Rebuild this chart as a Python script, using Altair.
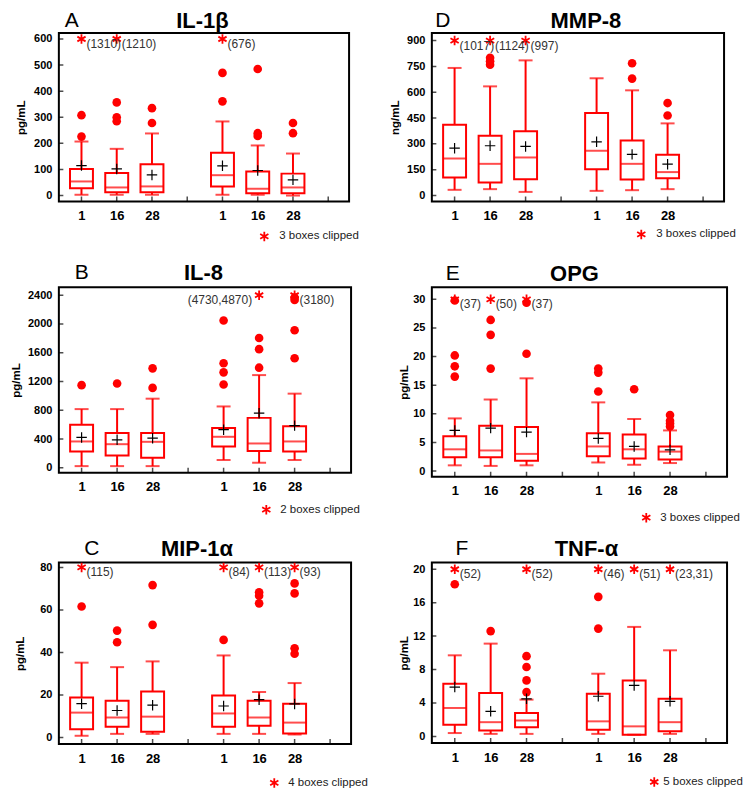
import altair as alt
import pandas as pd

RED = "#ff0000"
FONT = "Liberation Sans"
STAR = "M0,-1L0,1M-0.87,-0.5L0.87,0.5M-0.87,0.5L0.87,-0.5"

pos = [1, 2, 3, 5, 6, 7]
xtick_pos = [1, 2, 3, 4, 5, 6, 7, 8]
day_labels = ["1", "16", "28", "1", "16", "28"]

# ---- A: IL-1beta (pg/mL)
A_q1 = [28, 13, 13, 35, 9, 9]
A_med = [54, 31, 35, 78, 26, 31]
A_q3 = [102, 86, 120, 164, 92, 84]
A_wlo = [3, 3, 3, 3, 3, 0]
A_whi = [207, 179, 238, 284, 192, 161]
A_mean = [115, 102, 79, 114, 96, 60]
A_out = [[308, 226], [357, 300, 285], [335, 278], [470, 361], [485, 239, 228], [278, 239]]
A_star_pos = [1, 2, 5]
A_star_lab = ["(1310)", "(1210)", "(676)"]
A_yticks = [0, 100, 200, 300, 400, 500, 600]

# ---- D: MMP-8 (ng/mL)
D_q1 = [105, 76, 95, 153, 93, 101]
D_med = [215, 184, 221, 260, 184, 136]
D_q3 = [411, 347, 374, 479, 320, 237]
D_wlo = [33, 37, 21, 27, 31, 37]
D_whi = [741, 634, 785, 681, 611, 419]
D_mean = [275, 289, 285, 312, 239, 182]
D_out = [[], [800, 780, 760], [], [], [768, 679], [537, 465]]
D_star_pos = [1, 2, 3]
D_star_lab = ["(1017)", "(1124)", "(997)"]
D_yticks = [0, 150, 300, 450, 600, 750, 900]

# ---- B: IL-8 (pg/mL)
B_q1 = [225, 169, 141, 295, 234, 225]
B_med = [366, 328, 361, 431, 338, 366]
B_q3 = [600, 483, 483, 553, 694, 577]
B_wlo = [23, 23, 23, 108, 70, 108]
B_whi = [816, 816, 961, 853, 1289, 1031]
B_mean = [422, 389, 412, 530, 759, 586]
B_out = [[1149], [1172], [1383, 1111], [2049, 1453, 1327, 1158], [1805, 1650, 1392], [2367, 2335, 1913, 1524]]
B_star_pos = [6, 7]
B_star_lab = ["(4730,4870)", "(3180)"]
B_yticks = [0, 400, 800, 1200, 1600, 2000, 2400]

# ---- E: OPG (pg/mL)
E_q1 = [2.4, 2.4, 1.8, 2.6, 2.2, 2.0]
E_med = [3.8, 3.6, 3.0, 4.3, 3.8, 3.4]
E_q3 = [6.1, 7.9, 7.7, 6.6, 6.4, 4.3]
E_wlo = [1.0, 0.9, 1.0, 1.5, 1.1, 1.4]
E_whi = [9.2, 12.5, 16.2, 12.0, 9.1, 7.1]
E_mean = [7.1, 7.5, 6.8, 5.7, 4.3, 3.7]
E_out = [[29.8, 20.2, 18.3, 16.5], [26.4, 23.8, 17.9], [29.4, 20.5], [17.9, 17.2, 13.9], [14.3], [9.8, 8.8, 8.3, 7.8]]
E_star_pos = [1, 2, 3]
E_star_lab = ["(37)", "(50)", "(37)"]
E_yticks = [0, 5, 10, 15, 20, 25, 30]

# ---- C: MIP-1alpha (pg/mL)
C_q1 = [3.9, 5.0, 2.7, 5.0, 5.5, 1.9]
C_med = [11.7, 9.4, 9.8, 11.3, 9.4, 7.0]
C_q3 = [18.8, 17.3, 21.6, 19.8, 17.3, 15.9]
C_wlo = [0.8, 1.7, 1.7, 1.7, 1.7, 1.4]
C_whi = [35.2, 33.1, 35.8, 38.6, 21.4, 25.6]
C_mean = [15.9, 12.7, 15.2, 14.8, 17.8, 15.8]
C_out = [[61.6], [50.3, 44.8], [71.7, 53.0], [45.9], [68.3, 66.7, 63.1], [72.5, 67.8, 42.0, 39.4]]
C_star_pos = [1, 5, 6, 7]
C_star_lab = ["(115)", "(84)", "(113)", "(93)"]
C_yticks = [0, 20, 40, 60, 80]

# ---- F: TNF-alpha (pg/mL)
F_q1 = [1.4, 0.7, 1.1, 0.8, 0.2, 0.6]
F_med = [3.4, 1.7, 1.9, 1.8, 1.2, 1.7]
F_q3 = [6.3, 5.2, 2.8, 5.1, 6.7, 4.5]
F_wlo = [0.4, 0.3, 0.3, 0.3, 0.2, 0.3]
F_whi = [9.7, 11.1, 4.4, 7.5, 13.1, 10.3]
F_mean = [5.9, 3.0, 4.5, 4.8, 6.1, 4.2]
F_out = [[18.2], [12.6], [9.6, 8.3, 6.7, 5.3], [16.7, 12.9], [], []]
F_star_pos = [1, 3, 5, 6, 7]
F_star_lab = ["(52)", "(52)", "(46)", "(51)", "(23,31)"]
F_yticks = [0, 4, 8, 12, 16, 20]


def label_expr():
    parts = []
    for p, l in zip(pos, day_labels):
        parts.append(f"datum.value == {p} ? '{l}'")
    return " : ".join(parts) + " : ''"


def panel(letter, title, ytitle, q1, med, q3, wlo, whi, mean, outl,
          star_pos, star_lab, star_val, left_star, yticks, ydom, w, h,
          note, letter_xy, title_dx, note_xy, note_gap, title_pad):
    stats = pd.DataFrame({"pos": pos, "q1": q1, "med": med, "q3": q3,
                          "wlo": wlo, "whi": whi, "mean": mean})
    rows = [(p, v) for p, vals in zip(pos, outl) for v in vals]
    out_df = pd.DataFrame(rows, columns=["pos", "val"])
    st_df = pd.DataFrame({"pos": star_pos, "label": star_lab,
                          "val": [star_val] * len(star_pos),
                          "left": [p in left_star for p in star_pos]})
    yt_df = pd.DataFrame({"yt": yticks})
    xt_df = pd.DataFrame({"xt": xtick_pos})

    xs = alt.Scale(domain=[0.5, 8.45], nice=False, zero=False)
    ys = alt.Scale(domain=ydom, nice=False, zero=False)
    xax = alt.Axis(values=pos, labelExpr=label_expr(), ticks=False, domain=False,
                   grid=False, labelFontSize=13, labelFontWeight="bold",
                   labelPadding=8, labelColor="black", title=None)
    yax = alt.Axis(values=yticks, format="d", ticks=False, domain=False, grid=False,
                   labelFontSize=11, labelFontWeight="bold", labelPadding=7,
                   labelColor="black", title=ytitle, titleFontSize=11.5,
                   titleFontWeight="bold", titleColor="black", titlePadding=title_pad)

    def X(f):
        return alt.X(f, scale=xs, axis=xax, title=None)

    def Y(f):
        return alt.Y(f, scale=ys, axis=yax, title=ytitle)

    base = alt.Chart(stats)
    box = base.mark_bar(size=23, fillOpacity=0, stroke=RED, strokeWidth=2).encode(
        x=X("pos:Q"), y=Y("q1:Q"), y2="q3:Q")
    up = base.mark_rule(color=RED, strokeWidth=2).encode(x=X("pos:Q"), y=Y("q3:Q"), y2="whi:Q")
    lo = base.mark_rule(color=RED, strokeWidth=2).encode(x=X("pos:Q"), y=Y("wlo:Q"), y2="q1:Q")
    caps = base.transform_fold(["wlo", "whi"], as_=["k", "v"]).mark_tick(
        orient="horizontal", size=14, thickness=2, color=RED).encode(x=X("pos:Q"), y=Y("v:Q"))
    medt = base.mark_tick(orient="horizontal", size=23, thickness=2, color=RED).encode(
        x=X("pos:Q"), y=Y("med:Q"))
    meanm = base.mark_point(shape="M-1,0L1,0M0,-1L0,1", filled=False, color="black",
                            strokeWidth=1.2, size=110, opacity=1).encode(
        x=X("pos:Q"), y=Y("mean:Q"))
    outm = alt.Chart(out_df).mark_circle(size=75, color=RED, opacity=1).encode(
        x=X("pos:Q"), y=Y("val:Q"))
    stars = alt.Chart(st_df).mark_point(shape=STAR, filled=False, color=RED,
                                        strokeWidth=1.8, size=90, opacity=1).encode(
        x=X("pos:Q"), y=Y("val:Q"))
    slab_r = alt.Chart(st_df).transform_filter("!datum.left").mark_text(
        align="left", baseline="middle", dx=5, dy=5, fontSize=12, color="#333").encode(
        x=X("pos:Q"), y=Y("val:Q"), text="label:N")
    slab_l = alt.Chart(st_df).transform_filter("datum.left").mark_text(
        align="right", baseline="middle", dx=-7, dy=5, fontSize=12, color="#333").encode(
        x=X("pos:Q"), y=Y("val:Q"), text="label:N")
    yticks_m = alt.Chart(yt_df).mark_tick(orient="horizontal", size=9, thickness=1.5,
                                          color="black", clip=True).encode(
        x=alt.value(0), y=Y("yt:Q"))
    xticks_m = alt.Chart(xt_df).mark_tick(orient="vertical", size=10, thickness=1.5,
                                          color="black", clip=True).encode(
        x=X("xt:Q"), y=alt.value(h))
    one = pd.DataFrame({"letter": [letter], "title": [title], "note": [note]})
    let = alt.Chart(one).mark_text(fontSize=21, align="center", baseline="middle",
                                   color="black").encode(
        x=alt.value(letter_xy[0]), y=alt.value(letter_xy[1]), text="letter:N")
    tit = alt.Chart(one).mark_text(fontSize=22, fontWeight="bold", align="center",
                                   baseline="middle", color="black").encode(
        x=alt.value(w / 2 + title_dx), y=alt.value(letter_xy[1]), text="title:N")
    nstar = alt.Chart(one).mark_point(shape=STAR, filled=False, color=RED,
                                      strokeWidth=1.8, size=90, opacity=1).encode(
        x=alt.value(note_xy[0]), y=alt.value(note_xy[1]))
    ntext = alt.Chart(one).mark_text(fontSize=11.5, align="left", baseline="middle",
                                     color="#222").encode(
        x=alt.value(note_xy[0] + note_gap), y=alt.value(note_xy[1]), text="note:N")
    return alt.layer(box, up, lo, caps, medt, outm, meanm, stars, slab_r, slab_l,
                     yticks_m, xticks_m, let, tit, nstar, ntext).properties(width=w, height=h)


pA = panel("A", "IL-1β", "pg/mL", A_q1, A_med, A_q3, A_wlo, A_whi, A_mean, A_out,
           A_star_pos, A_star_lab, 600, [], A_yticks, [-23, 623], 291, 169,
           "3 boxes clipped", (13, -12), -1.5, (206, 204), 15, 7)
pD = panel("D", "MMP-8", "ng/mL", D_q1, D_med, D_q3, D_wlo, D_whi, D_mean, D_out,
           D_star_pos, D_star_lab, 900, [], D_yticks, [-35, 944], 293, 169,
           "3 boxes clipped", (11, -12), 8, (210, 202), 15, 6)
pB = panel("B", "IL-8", "pg/mL", B_q1, B_med, B_q3, B_wlo, B_whi, B_mean, B_out,
           B_star_pos, B_star_lab, 2400, [6], B_yticks, [-70, 2510], 293, 186,
           "2 boxes clipped", (23, -14), -1.5, (208, 223), 14, 6)
pE = panel("E", "OPG", "pg/mL", E_q1, E_med, E_q3, E_wlo, E_whi, E_mean, E_out,
           E_star_pos, E_star_lab, 30, [], E_yticks, [-1.0, 32.1], 296, 190,
           "3 boxes clipped", (21, -13), -5, (215, 231), 14, 3)
pC = panel("C", "MIP-1α", "pg/mL", C_q1, C_med, C_q3, C_wlo, C_whi, C_mean, C_out,
           C_star_pos, C_star_lab, 80, [], C_yticks, [-3.1, 82.3], 293, 182,
           "4 boxes clipped", (33, -14), -8, (216, 221), 14, 14)
pF = panel("F", "TNF-α", "pg/mL", F_q1, F_med, F_q3, F_wlo, F_whi, F_mean, F_out,
           F_star_pos, F_star_lab, 20, [], F_yticks, [-0.8, 20.8], 296, 181,
           "5 boxes clipped", (30, -14), 7, (223, 220), 9, 3)

chart = alt.concat(pA, pD, pB, pE, pC, pF, columns=2,
                   spacing=alt.RowColnumber(row=86, column=81), bounds="flush").properties(
    padding={"left": 1, "top": 0, "right": 0, "bottom": 0}
).configure(font=FONT).configure_view(stroke="black", strokeWidth=2)

chart.save("out.html", embed_options={"renderer": "svg", "actions": False})
